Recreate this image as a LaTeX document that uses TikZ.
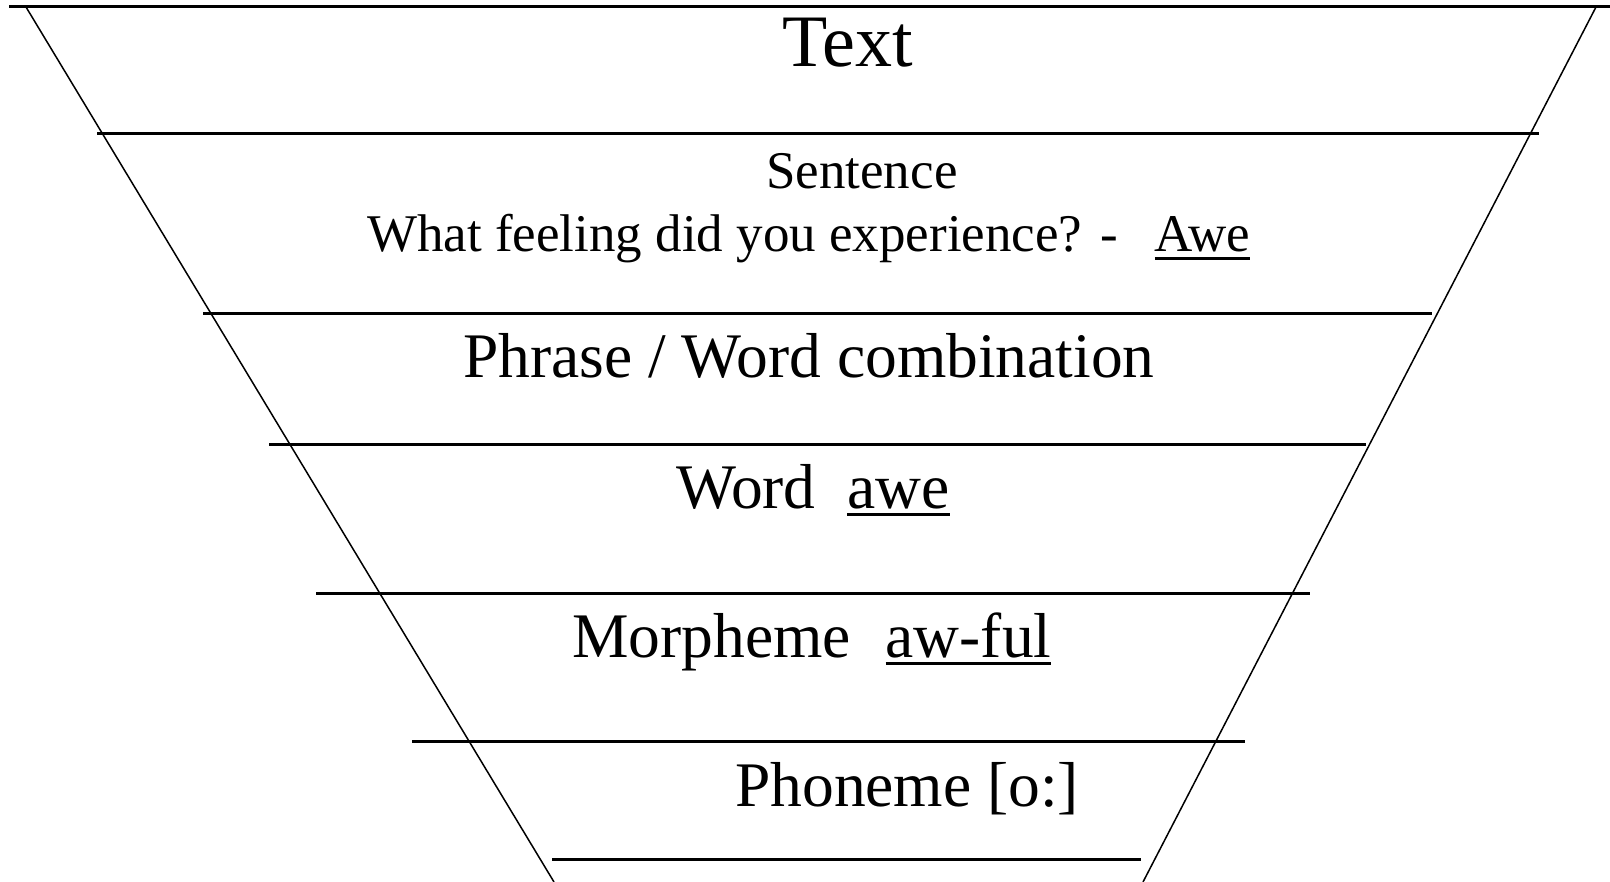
\documentclass[tikz,border=0pt]{standalone}
\usepackage{fontspec}
\setmainfont{Liberation Serif}
% underline drawn as a plain rule under the text
\newcommand{\undl}[1]{\setbox0\hbox{#1}\rlap{\rule[-8pt]{\wd0}{3pt}}\box0}
\begin{document}
\begin{tikzpicture}[x=1pt,y=-1pt,
  level/.style={line width=3pt},
  side/.style={line width=1.5pt},
  lbl/.style={inner sep=0pt, anchor=base west}]
\useasboundingbox (0,0) rectangle (1610,882);
% sloping sides of the funnel
\draw[side] (26,7) -- (554,882);
\draw[side] (1596,7) -- (1143,882);
% level separators
\draw[level] (9,7) -- (1610,7);
\draw[level] (97,134) -- (1539,134);
\draw[level] (203,314) -- (1432,314);
\draw[level] (269,445) -- (1366,445);
\draw[level] (316,593) -- (1310,593);
\draw[level] (412,741) -- (1245,741);
\draw[level] (552,859) -- (1141,859);
% level labels
\node[lbl, anchor=base] (text) at (848,67) {\fontsize{74}{80}\selectfont Text};
\node[lbl] (sent) at (766,189) {\fontsize{53}{60}\selectfont Sentence};
\node[lbl] (sentex) at (367,252) {\fontsize{53}{60}\selectfont What feeling did you experience? -\hspace{0.7em}\undl{Awe}};
\node[lbl] (phrase) at (463,378) {\fontsize{63.5}{70}\selectfont Phrase / Word combination};
\node[lbl] (word) at (676,508) {\fontsize{63.5}{70}\selectfont Word\hspace{0.5em}\undl{awe}};
\node[lbl] (morph) at (572,657) {\fontsize{63.5}{70}\selectfont Morpheme\hspace{0.55em}\undl{aw-ful}};
\node[lbl] (phon) at (735,806) {\fontsize{63.5}{70}\selectfont Phoneme [o:]};
\end{tikzpicture}
\end{document}
